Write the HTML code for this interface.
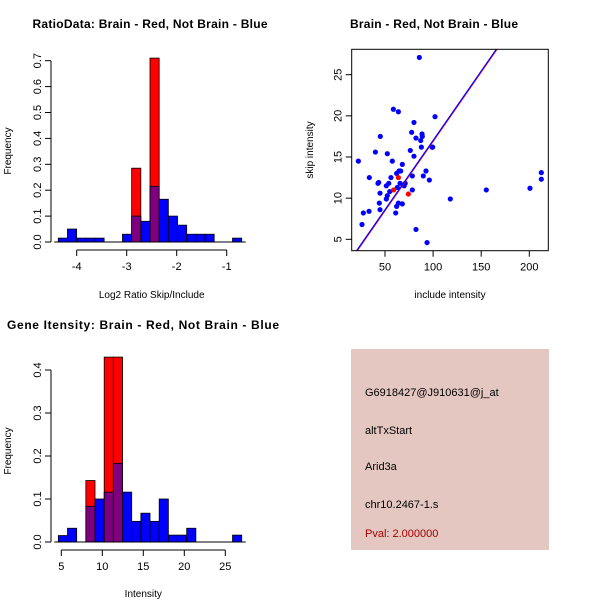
<!DOCTYPE html>
<html><head><meta charset="utf-8"><style>
body{margin:0;background:#fff}
svg{display:block;font-family:"Liberation Sans",sans-serif}
</style></head><body>
<svg id="c" width="600" height="600" viewBox="0 0 600 600" xmlns="http://www.w3.org/2000/svg">
<rect width="600" height="600" fill="#fff"/>
<text x="150" y="28" font-size="12" font-weight="bold" text-anchor="middle" textLength="235">RatioData: Brain - Red, Not Brain - Blue</text>
<text x="434" y="28" font-size="12" font-weight="bold" text-anchor="middle" textLength="168">Brain - Red, Not Brain - Blue</text>
<text x="143" y="329" font-size="12" font-weight="bold" text-anchor="middle" textLength="272">Gene Itensity: Brain - Red, Not Brain - Blue</text>
<g id="p1"></g>
<g id="p2"></g>
<g id="p3"></g>
<g>
<rect x="351" y="349" width="198" height="201" fill="#e5c7c1"/>
<text x="365" y="396" font-size="11">G6918427@J910631@j_at</text>
<text x="365" y="434" font-size="11">altTxStart</text>
<text x="365" y="470" font-size="11">Arid3a</text>
<text x="365" y="508" font-size="11">chr10.2467-1.s</text>
<text x="365" y="537" font-size="11" fill="#a00000">Pval: 2.000000</text>
</g>
</svg>
<script>
// ---- Ratio histogram data ----
const ratioBinStart = -4.368, ratioBinWidth = 0.1834;
const ratioBlue = [0.015,0.05,0.015,0.015,0.015,0,0,0.03,0.1,0.08,0.215,0.165,0.1,0.065,0.03,0.03,0.03,0,0,0.015];
const ratioRed  = [0,0,0,0,0,0,0,0,0.285,0,0.71,0,0,0,0,0,0,0,0,0];
const ratioXTicks = [-4,-3,-2,-1];
const ratioYTicks = [0,0.1,0.2,0.3,0.4,0.5,0.6,0.7];
// ---- Intensity histogram data ----
const intBinStart = 4.64, intBinWidth = 1.118;
const intBlue = [0.015,0.032,0,0.083,0.1,0.116,0.183,0.116,0.048,0.067,0.048,0.1,0.016,0.016,0.032,0,0,0,0,0.016];
const intRed  = [0,0,0,0.143,0,0.43,0.43,0,0,0,0,0,0,0,0,0,0,0,0,0];
const intXTicks = [5,10,15,20,25];
const intYTicks = [0,0.1,0.2,0.3,0.4];
// ---- Scatter data ----
const blueX = [85.7,58.7,63.9,102,80.1,45.1,77.7,82.2,88.5,88.8,87.1,76.3,87.8,98.9,99.5,40,52.4,80.1,22.3,57.6,68,33.7,42.7,43.4,56.2,62.1,64.6,66.3,78.4,89.8,92.6,96.1,51.4,53.9,65.6,71,69.9,62.8,44.8,54.9,78.4,52.4,51.4,44.1,63.9,68,62.1,44.8,33.4,27.5,61.1,26.1,82.2,93.7,117.9,155.3,200.7,212.5,212.5];
const blueY = [27.1,20.8,20.5,19.9,19.2,17.5,18.0,17.3,17.8,17.5,17.0,15.8,16.2,16.2,16.2,15.6,15.4,15.1,14.5,14.5,14.1,12.5,11.8,11.9,12.5,13.0,13.3,13.3,12.7,12.7,13.3,12.2,11.5,11.8,11.8,11.8,11.5,11.3,10.6,10.8,11.0,10.3,9.9,9.4,9.4,9.3,9.0,8.6,8.4,8.2,8.2,6.8,6.2,4.6,9.9,11.0,11.2,13.1,12.3];
const redX = [63.9,59,74.3];
const redY = [12.5,11.0,10.5];
const fitSlope = 0.1685, fitIntercept = 0.13;
const scXTicks = [50,100,150,200];
const scYTicks = [5,10,15,20,25];

const NS="http://www.w3.org/2000/svg";
function mk(parent,tag,attrs,text){const e=document.createElementNS(NS,tag);for(const k in attrs)e.setAttribute(k,attrs[k]);if(text!==undefined)e.textContent=text;parent.appendChild(e);return e;}

function hist(gid,binStart,binW,blue,red,xTicks,yTicks,xs,ys,axisY,xlab,xlabY,ylabY,ydec){
  const g=document.getElementById(gid);
  const x0=xs(binStart);
  for(let i=0;i<blue.length;i++){
    const a=binStart+i*binW,b=a+binW;
    const X=xs(a),W=xs(b)-xs(a);
    if(red[i]>0){const r=mk(g,'rect',{x:X,y:ys(red[i]),width:W,height:ys(0)-ys(red[i]),fill:'#ff0000',stroke:'#000','stroke-width':0.8});
      
      }
    if(blue[i]>0){const col=red[i]>0?'#7f007f':'#0000ff';
      const r=mk(g,'rect',{x:X,y:ys(blue[i]),width:W,height:ys(0)-ys(blue[i]),fill:col,stroke:'#000','stroke-width':0.8});
      
      }
  }
  mk(g,'line',{x1:xs(binStart)-4,x2:xs(binStart+blue.length*binW)+4,y1:ys(0),y2:ys(0),stroke:'#000','stroke-width':1});
  // x axis
  const xa=mk(g,'g',{});
  
  
  mk(xa,'line',{x1:xs(xTicks[0]),x2:xs(xTicks[xTicks.length-1]),y1:axisY,y2:axisY,stroke:'#000'});
  xTicks.forEach(t=>{mk(xa,'line',{x1:xs(t),x2:xs(t),y1:axisY,y2:axisY+6,stroke:'#000'});
    const tx=mk(xa,'text',{x:xs(t),y:axisY+20,'font-size':11,'text-anchor':'middle'},String(t));
    
    });
  // y axis
  const ya=mk(g,'g',{});
  
  
  const ax=51;
  mk(ya,'line',{x1:ax,x2:ax,y1:ys(yTicks[0]),y2:ys(yTicks[yTicks.length-1]),stroke:'#000'});
  yTicks.forEach(t=>{mk(ya,'line',{x1:ax-6,x2:ax,y1:ys(t),y2:ys(t),stroke:'#000'});
    const tx=mk(ya,'text',{x:0,y:0,'font-size':11,'text-anchor':'middle',transform:`translate(${ax-10},${ys(t)}) rotate(-90)`},t.toFixed(ydec));
    
    });
  const xl=mk(g,'text',{x:(xs(xTicks[0])+xs(xTicks[xTicks.length-1]))/2,y:xlabY,'font-size':10,'text-anchor':'middle'},xlab);
  
  
  const yl=mk(g,'text',{x:0,y:0,'font-size':10,'text-anchor':'middle',transform:`translate(11,${ylabY}) rotate(-90)`},'Frequency');
  
  
}
// panel 1
hist('p1',ratioBinStart,ratioBinWidth,ratioBlue,ratioRed,ratioXTicks,ratioYTicks,
  v=>76.7+(v+4)*50, v=>242-v*259, 250,'Log2 Ratio Skip/Include',298,151,1);
// panel 3
hist('p3',intBinStart,intBinWidth,intBlue,intRed,intXTicks,intYTicks,
  v=>61.3+(v-5)*8.2, v=>542-v*430, 550,'Intensity',597,451,1);

// panel 2 scatter
(function(){
  const g=document.getElementById('p2');
  const xs=v=>385+(v-50)*0.962, ys=v=>239.3-(v-5)*8.23;
  const L=351.7,R=548.3,T=49.3,B=250.7;
  const cp=mk(g,'clipPath',{id:'clp'});mk(cp,'rect',{x:L,y:T,width:R-L,height:B-T});
  const pts=mk(g,'g',{'clip-path':'url(#clp)'});
  for(let i=0;i<blueX.length;i++){const c=mk(pts,'circle',{cx:xs(blueX[i]),cy:ys(blueY[i]),r:2.6,fill:'#0000ff'});
    
    }
  for(let i=0;i<redX.length;i++){const c=mk(pts,'circle',{cx:xs(redX[i]),cy:ys(redY[i]),r:2.6,fill:'#ff0000'});
    
    }
  const xa0=0,xa1=300;
  const fl=mk(pts,'line',{x1:xs(xa0),y1:ys(fitIntercept+fitSlope*xa0),x2:xs(xa1),y2:ys(fitIntercept+fitSlope*xa1),stroke:'#0000ff','stroke-width':1.5});
  
  
  mk(pts,'line',{x1:xs(xa0)+0.8,y1:ys(fitIntercept+fitSlope*xa0),x2:xs(xa1)+0.8,y2:ys(fitIntercept+fitSlope*xa1),stroke:'#ff0000','stroke-width':0.8,'stroke-opacity':0.7});
  const box=mk(g,'rect',{x:L,y:T,width:R-L,height:B-T,fill:'none',stroke:'#000'});
  
  
  scXTicks.forEach(t=>{mk(g,'line',{x1:xs(t),x2:xs(t),y1:B,y2:B+6,stroke:'#000'});
    const tx=mk(g,'text',{x:xs(t),y:B+20,'font-size':11,'text-anchor':'middle'},String(t));
    
    });
  scYTicks.forEach(t=>{mk(g,'line',{x1:L-6,x2:L,y1:ys(t),y2:ys(t),stroke:'#000'});
    const tx=mk(g,'text',{x:0,y:0,'font-size':11,'text-anchor':'middle',transform:`translate(${L-10},${ys(t)}) rotate(-90)`},String(t));
    
    });
  const xl=mk(g,'text',{x:450,y:298,'font-size':10,'text-anchor':'middle'},'include intensity');
  
  
  const yl=mk(g,'text',{x:0,y:0,'font-size':10,'text-anchor':'middle',transform:'translate(313,150) rotate(-90)'},'skip intensity');
  
  
})();
</script>
</body></html>
